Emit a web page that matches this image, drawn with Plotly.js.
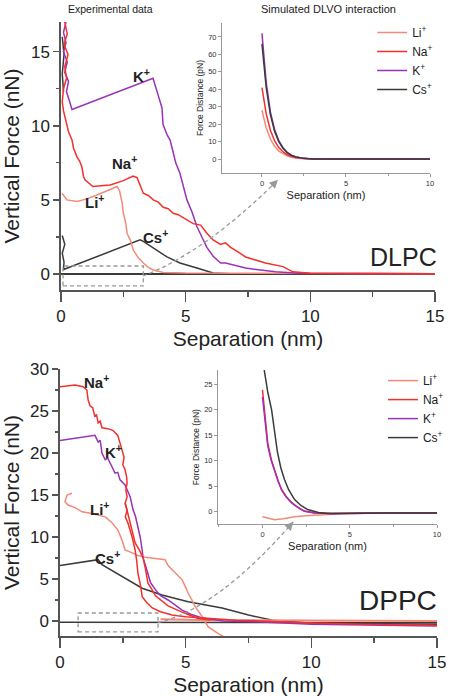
<!DOCTYPE html>
<html>
<head>
<meta charset="utf-8">
<script src="https://cdn.plot.ly/plotly-3.0.1.min.js"></script>
<style>html,body{margin:0;padding:0;background:#fff}#chart{width:450px;height:696px}</style>
</head>
<body>
<div id="chart"></div>
<script>
// ---------- DLPC (top) experimental data ----------
const dlpcLiX = [0.04,0.24,0.64,1.0,1.4,1.8,2.25,2.35,2.45,2.5,2.6,2.65,2.8,2.9,3.1,3.3,3.5,3.7,4.1,5,7,10,15];
const dlpcLiY = [5.45,5.0,4.9,5.05,5.3,5.6,5.9,5.6,4.8,4.1,3.4,2.75,2.2,1.6,1.1,0.74,0.45,0.27,0.1,0.06,0.05,0.03,0.02];

const dlpcNaX = [0.15,0.25,0.12,0.28,0.15,0.22,0.1,0.05,0.1,0.18,0.24,0.3,0.44,0.5,0.64,0.75,0.84,0.9,0.96,1.28,1.6,1.97,2.5,2.89,3.05,3.2,3.3,3.5,3.7,3.9,4.1,4.3,4.5,4.7,4.9,5.1,5.3,5.6,5.85,6.1,6.4,6.6,6.8,7.1,7.4,7.8,8.2,8.9,9.3,10,15];
const dlpcNaY = [17.0,16.2,15.5,14.8,14.0,13.2,12.5,11.6,11.0,10.4,9.9,9.6,9.05,8.5,7.9,7.6,7.2,6.6,6.35,5.9,5.95,6.0,6.3,6.6,6.5,5.8,5.45,5.3,5.0,4.85,4.5,4.4,4.1,4.0,3.8,3.55,3.4,3.3,2.75,2.3,2.0,2.1,1.8,1.5,1.15,0.95,0.74,0.5,0.15,0.05,0.02];

const dlpcKX = [0.2,0.1,0.2,0.1,0.25,0.15,0.3,0.22,0.35,0.44,3.69,3.77,3.89,4.05,4.09,4.25,4.37,4.5,4.6,4.77,4.9,5.05,5.25,5.45,5.65,5.85,6.1,6.4,6.6,7.4,8.6,9.5,15];
const dlpcKY = [17.0,16.3,15.6,15.0,14.3,13.6,13.0,12.3,11.6,11.1,13.2,12.8,12.1,11.2,10.1,9.4,9.05,8.2,7.5,6.8,5.9,5.0,4.2,3.2,2.5,1.8,1.2,0.74,0.74,0.4,0.15,0.05,0.02];

const dlpcCsX = [0.05,0.12,0.05,0.1,null,0.05,0.15,0.05,0.12,0.1,3.17,3.3,3.5,3.85,4.25,4.77,5.45,6.1,7,15];
const dlpcCsY = [16.0,14.8,13.5,12.3,null,2.6,2.0,1.4,0.8,0.3,2.3,2.2,2.0,1.6,1.15,0.74,0.4,0.07,0.0,0.0];
const dlpcBaseX = [0,15];
const dlpcBaseY = [0,0];

// ---------- DLPC simulated DLVO (top inset) ----------
const simTopX  = [0,0.25,0.5,0.75,1,1.25,1.5,1.75,2,2.5,3,4,6,10];
const simTopLi = [28,18,11.5,7.3,4.6,3,1.8,1.1,0.65,0.2,0.05,0,0,0];
const simTopNa = [41,26,16.5,10.5,6.6,4.2,2.5,1.5,0.9,0.3,0.1,0,0,0];
const simTopK  = [72,44,27,17,10.5,6.5,3.8,2.2,1.3,0.4,0.1,0,0,0];
const simTopCs = [66,41,25.5,16,10,6.2,3.7,2.1,1.25,0.4,0.1,0,0,0];

// ---------- DPPC (bottom) experimental data ----------
const dppcNaX = [0.0,0.3,0.6,0.92,1.07,1.12,1.2,1.3,1.39,1.45,1.52,1.6,1.67,1.9,2.1,2.3,2.39,2.47,2.55,2.5,2.59,2.65,2.67,2.62,2.67,2.59,2.67,2.6,2.7,2.87,2.99,3.05,3.1,3.2,3.27,3.45,3.67,4.0,4.46,5.0,5.66,7,9.76,12,15];
const dppcNaY = [27.9,28.0,28.1,27.9,27.5,26.3,25.6,25.4,24.3,24.6,23.6,23.8,23.0,22.9,22.7,22.1,21.2,20.3,19.5,18.6,18.0,17.2,16.4,15.6,14.8,14.0,13.2,12.4,11.7,10.0,8.45,7.2,5.7,4.3,2.9,2.2,1.55,1.1,0.7,0.5,0.36,0.1,-0.2,-0.4,-0.5];
const dppcNa2X = [2.6,2.72,2.8,2.87,2.99,3.15,3.3,3.4,3.5,3.65,3.8,4.3,4.9,5.5,6.0];
const dppcNa2Y = [14.0,12.5,11.8,10.8,9.3,8.5,7.6,6.2,4.5,3.8,3.0,1.8,1.0,0.3,0.1];

const dppcKX = [0,1.39,1.52,1.6,1.67,1.8,1.9,2.07,2.19,2.3,2.39,2.59,2.7,2.79,2.85,2.91,3.0,3.07,3.12,3.19,3.27,3.3,3.4,3.5,3.6,3.8,4.0,4.3,4.6,4.86,5.2,5.66,6.5,7.8,10,15];
const dppcKY = [21.5,22.1,21.3,21.5,20.0,19.2,19.4,18.3,17.6,17.7,16.8,16.2,15.3,14.8,14.0,13.2,12.5,11.7,10.8,10.0,8.45,7.6,6.6,5.7,4.6,3.7,3.0,2.5,1.8,1.3,0.8,0.36,0.0,-0.1,-0.4,-0.6];

const dppcLiX = [0.48,0.28,0.2,0.32,0.6,0.88,1.27,1.8,2.07,2.31,2.47,2.59,2.8,3.1,3.39,3.8,4.18,4.3,4.46,4.6,4.86,5.0,5.1,5.25,5.38,5.66,5.9,6.3,6.7];
const dppcLiY = [15.2,15.0,14.2,13.8,13.5,13.0,12.8,12.4,11.7,10.8,9.6,8.45,8.2,7.8,7.6,7.4,7.3,6.6,6.1,5.6,4.9,4.0,3.3,2.5,1.7,0.5,-0.7,-1.5,-2.2];
const dppcLi2X = [4.0,6,10,15];
const dppcLi2Y = [0.2,0.1,0.05,0.0];

const dppcCsX = [0,1.52,1.67,2.47,3.27,4.06,5.1,6.45,7.5,8.45,9.76,12,15];
const dppcCsY = [6.6,7.3,6.7,5.3,3.9,3.1,2.3,1.55,0.7,0.1,-0.2,-0.3,-0.4];
const dppcBaseX = [0,15];
const dppcBaseY = [-0.15,-0.2];

// ---------- DPPC simulated DLVO (bottom inset) ----------
const simBotCsX = [0.1,0.3,0.52,0.7,0.86,1.05,1.26,1.5,1.84,2.2,2.59,3.2,3.74,5,7,10];
const simBotCsY = [27.8,23.5,20,15,11.6,8.6,6.3,4.3,2.35,1.2,0.4,-0.2,-0.4,-0.4,-0.3,-0.3];
const simBotX   = [0,0.15,0.3,0.5,0.69,0.9,1.1,1.35,1.67,2,2.4,3,4,6,10];
const simBotNaY = [23.9,18,13.5,10.3,8.2,6,4.3,3,1.8,0.9,0.1,-0.3,-0.4,-0.3,-0.3];
const simBotKY  = [22.5,17.2,13,10,8,5.9,4.2,2.9,1.7,0.85,0.05,-0.3,-0.4,-0.3,-0.3];
const simBotLiX = [0,0.3,0.69,1.2,1.84,2.5,3.4,4.5,6,10];
const simBotLiY = [-1.0,-1.3,-1.6,-1.4,-1.0,-0.8,-0.6,-0.45,-0.35,-0.3];

const ionNames = ['Li<sup>+</sup>','Na<sup>+</sup>','K<sup>+</sup>','Cs<sup>+</sup>'];
const panelNames = ['DLPC','DPPC'];

// ---------- styles ----------
const C = {Li:'#f28a78', Na:'#f2302c', K:'#9932b8', Cs:'#3a3a3a'};
const FONT = 'Liberation Sans, Arial, sans-serif';
const lw = 1.5;

function ln(x,y,color,xa,ya,extra){
  return Object.assign({x:x,y:y,type:'scatter',mode:'lines',xaxis:xa,yaxis:ya,
    line:{color:color,width:lw},showlegend:false,hoverinfo:'skip',connectgaps:false},extra||{});
}

const traces = [
  // top main
  ln(dlpcBaseX,dlpcBaseY,C.Cs,'x','y',{line:{color:C.Cs,width:2}}),
  ln(dlpcCsX,dlpcCsY,C.Cs,'x','y'),
  ln(dlpcLiX,dlpcLiY,C.Li,'x','y'),
  ln(dlpcKX,dlpcKY,C.K,'x','y'),
  ln(dlpcNaX,dlpcNaY,C.Na,'x','y'),
  // top inset
  ln(simTopX,simTopLi,C.Li,'x2','y2',{name:ionNames[0],showlegend:true,legend:'legend'}),
  ln(simTopX,simTopNa,C.Na,'x2','y2',{name:ionNames[1],showlegend:true,legend:'legend'}),
  ln(simTopX,simTopK,C.K,'x2','y2',{name:ionNames[2],showlegend:true,legend:'legend'}),
  ln(simTopX,simTopCs,C.Cs,'x2','y2',{name:ionNames[3],showlegend:true,legend:'legend'}),
  // bottom main
  ln(dppcBaseX,dppcBaseY,C.Cs,'x3','y3'),
  ln(dppcCsX,dppcCsY,C.Cs,'x3','y3'),
  ln(dppcLi2X,dppcLi2Y,C.Li,'x3','y3',{line:{color:C.Li,width:2}}),
  ln(dppcLiX,dppcLiY,C.Li,'x3','y3'),
  ln(dppcKX,dppcKY,C.K,'x3','y3'),
  ln(dppcNa2X,dppcNa2Y,C.Na,'x3','y3'),
  ln(dppcNaX,dppcNaY,C.Na,'x3','y3'),
  // bottom inset
  ln(simBotLiX,simBotLiY,C.Li,'x4','y4',{name:ionNames[0],showlegend:true,legend:'legend2'}),
  ln(simBotX,simBotNaY,C.Na,'x4','y4',{name:ionNames[1],showlegend:true,legend:'legend2'}),
  ln(simBotX,simBotKY,C.K,'x4','y4',{name:ionNames[2],showlegend:true,legend:'legend2'}),
  ln(simBotCsX,simBotCsY,C.Cs,'x4','y4',{name:ionNames[3],showlegend:true,legend:'legend2'})
];

function mainX(dom, anchor, titleStandoff){
  return {domain:dom, range:[0,15], anchor:anchor, showline:true, linecolor:'#555', linewidth:1.6,
    ticks:'outside', ticklen:10, tickwidth:1.6, tickcolor:'#555', tickvals:[0,5,10,15],
    minor:{tickvals:[2.5,7.5,12.5], ticks:'outside', ticklen:5, tickwidth:1.6, tickcolor:'#555'},
    showgrid:false, zeroline:false, tickfont:{family:FONT,size:17,color:'#222'},
    title:{text:'Separation (nm)', font:{family:FONT,size:21,color:'#222'}, standoff:titleStandoff}, fixedrange:true};
}
function mainY(dom, range, vals, anchor, minorVals){
  return {domain:dom, range:range, anchor:anchor, showline:true, linecolor:'#555', linewidth:1.6,
    ticks:'outside', ticklen:6, tickwidth:1.6, tickcolor:'#555', tickvals:vals,
    minor:{tickvals:minorVals, ticks:'outside', ticklen:3, tickwidth:1.2, tickcolor:'#555'},
    showgrid:false, zeroline:false, tickfont:{family:FONT,size:17,color:'#222'},
    title:{text:'Vertical Force (nN)', font:{family:FONT,size:21,color:'#222'}, standoff:6}, fixedrange:true};
}
function insetX(dom, range, anchor){
  return {domain:dom, range:range, anchor:anchor, showline:true, linecolor:'#999', linewidth:1,
    ticks:'outside', ticklen:3, tickcolor:'#999', tickvals:[0,5,10],
    minor:{tickvals:[-2.5,2.5,7.5], ticks:'outside', ticklen:2, tickcolor:'#999'},
    showgrid:false, zeroline:false, tickfont:{family:FONT,size:7.5,color:'#333'},
    title:{text:'Separation (nm)', font:{family:FONT,size:11,color:'#222'}, standoff:4}, fixedrange:true};
}
function insetY(dom, range, vals, anchor){
  return {domain:dom, range:range, anchor:anchor, showline:true, linecolor:'#999', linewidth:1,
    ticks:'outside', ticklen:3, tickcolor:'#999', tickvals:vals,
    showgrid:false, zeroline:false, tickfont:{family:FONT,size:7.5,color:'#333'},
    title:{text:'Force Distance (pN)', font:{family:FONT,size:8.5,color:'#222'}, standoff:3}, fixedrange:true};
}

const dashed = {color:'#999', width:1.3, dash:'4px,3px'};
const labelFont = {family:FONT, size:15, color:'#222', weight:'bold'};
function lab(text,x,y,xr,yr){return {text:text,x:x,y:y,xref:xr,yref:yr,xanchor:'center',yanchor:'middle',showarrow:false,font:labelFont};}
function ptext(text,px,py,size){return {text:text,x:px/450,y:1-py/696,xref:'paper',yref:'paper',xanchor:'center',yanchor:'middle',showarrow:false,font:{family:FONT,size:size,color:'#222'}};}

const layout = {
  width:450, height:696, margin:{l:0,r:0,t:0,b:0}, paper_bgcolor:'#fff', plot_bgcolor:'rgba(0,0,0,0)',
  font:{family:FONT,color:'#222'},
  xaxis: mainX([0.1356,0.9667],'y',6),
  yaxis: mainY([0.5833,0.9684],[-1.08,17],[0,5,10,15],'x',[2.5,7.5,12.5]),
  xaxis2: insetX([0.4933,0.9556],[-2.38,10],'y2'),
  yaxis2: insetY([0.7514,0.967],[-8,78],[0,10,20,30,40,50,60,70],'x2'),
  xaxis3: mainX([0.1333,0.9711],'y3',6),
  yaxis3: mainY([0.0862,0.4698],[-1.79,30],[0,5,10,15,20,25,30],'x3',[2.5,7.5,12.5,17.5,22.5,27.5]),
  xaxis4: insetX([0.4844,0.9711],[-2.55,10],'y4'),
  yaxis4: insetY([0.2467,0.4684],[-2.5,27.8],[0,5,10,15,20,25],'x4'),
  legend:{x:0.827,y:0.974,xanchor:'left',yanchor:'top',bgcolor:'rgba(0,0,0,0)',
    font:{family:FONT,size:12,color:'#222'},tracegroupgap:0,itemwidth:30},
  legend2:{x:0.851,y:0.474,xanchor:'left',yanchor:'top',bgcolor:'rgba(0,0,0,0)',
    font:{family:FONT,size:12,color:'#222'},tracegroupgap:0,itemwidth:30},
  shapes:[
    {type:'rect',xref:'x',yref:'y',x0:0.08,x1:3.3,y0:-0.8,y1:0.54,line:dashed},
    {type:'path',xref:'x',yref:'y',path:'M 3.29 -0.13 Q 5.8 1.49 8.7 6.35',line:dashed},
    {type:'rect',xref:'x3',yref:'y3',x0:0.72,x1:3.9,y0:-1.3,y1:0.95,line:dashed},
    {type:'path',xref:'x3',yref:'y3',path:'M 3.9 -0.2 Q 6.31 1.55 9.28 11.8',line:dashed}
  ],
  annotations:[
    {text:'',x:8.7,y:6.35,xref:'x',yref:'y',showarrow:true,ax:-8,ay:8,arrowhead:2,arrowsize:1.4,arrowwidth:1.2,arrowcolor:'#999'},
    {text:'',x:9.28,y:11.8,xref:'x3',yref:'y3',showarrow:true,ax:-7,ay:8,arrowhead:2,arrowsize:1.4,arrowwidth:1.2,arrowcolor:'#999'},
    lab('K<sup>+</sup>',3.24,13.4,'x','y'),
    lab('Na<sup>+</sup>',2.53,7.5,'x','y'),
    lab('Li<sup>+</sup>',1.36,4.9,'x','y'),
    lab('Cs<sup>+</sup>',3.77,2.5,'x','y'),
    lab('Na<sup>+</sup>',1.47,28.5,'x3','y3'),
    lab('K<sup>+</sup>',2.11,20.2,'x3','y3'),
    lab('Li<sup>+</sup>',1.59,13.4,'x3','y3'),
    lab('Cs<sup>+</sup>',1.91,7.6,'x3','y3'),
    ptext(panelNames[0],403,257,25),
    ptext(panelNames[1],398,600,28),
    ptext('Experimental data',110,9,10.5),
    ptext('Simulated DLVO interaction',328,9,11)
  ]
};

Plotly.newPlot('chart', traces, layout, {staticPlot:true, displayModeBar:false});
</script>
</body>
</html>
